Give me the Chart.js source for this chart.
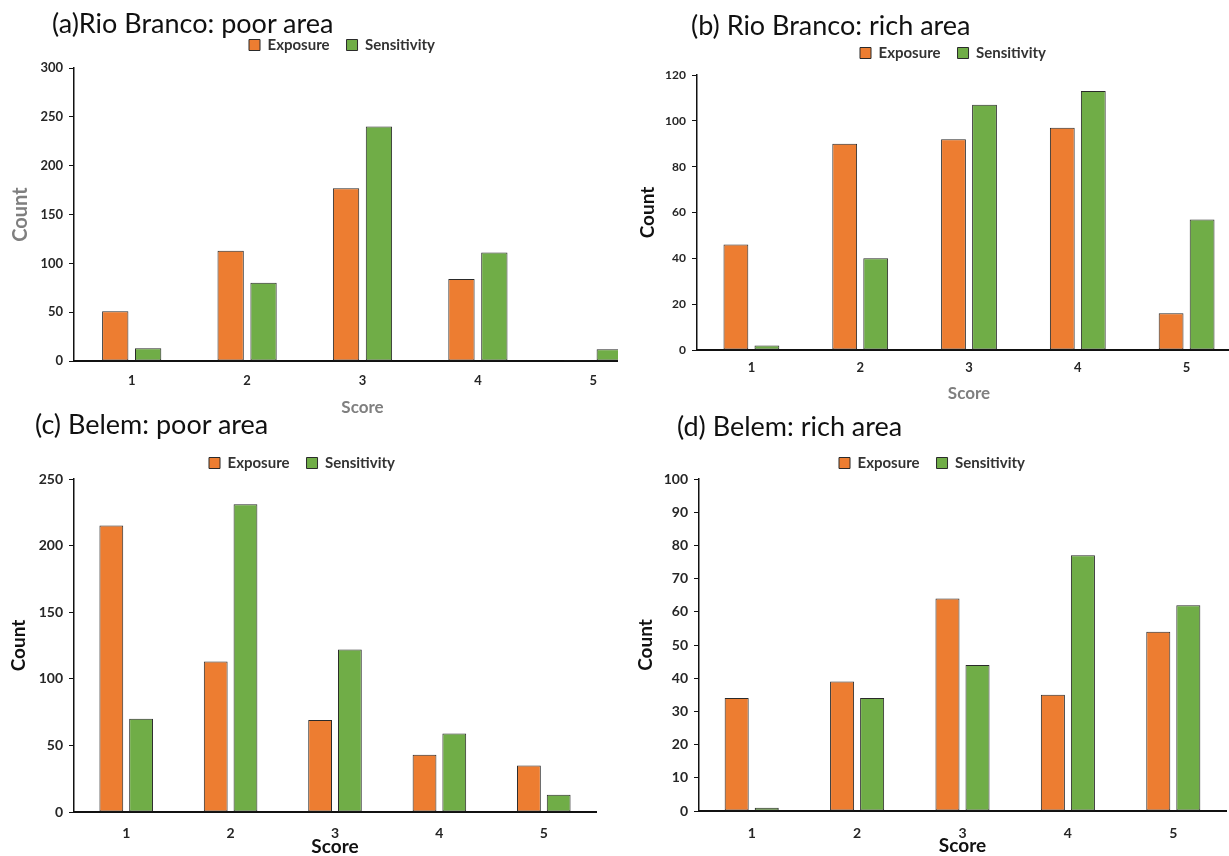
<!DOCTYPE html>
<html>
<head>
<meta charset="utf-8">
<script src="https://cdn.jsdelivr.net/npm/chart.js@4.4.1/dist/chart.umd.min.js"></script>
<style>
  body { margin: 0; background: #fff; width: 1229px; height: 856px; overflow: hidden; position: relative; font-family: Lato, sans-serif; }
  .wrap { position: absolute; overflow: hidden; }
  .title { position: absolute; font-size: 27px; line-height: 30px; color: #111; white-space: nowrap; }
  canvas { display: block; }
</style>
</head>
<body>
<script>
const scores = ['1', '2', '3', '4', '5'];

// (a) Rio Branco, poor area
const rbPoorExposure = [51, 113, 177, 84, 1];
const rbPoorSensitivity = [13, 80, 240, 111, 12];
// (b) Rio Branco, rich area
const rbRichExposure = [46, 90, 92, 97, 16];
const rbRichSensitivity = [2, 40, 107, 113, 57];
// (c) Belem, poor area
const bePoorExposure = [215, 113, 69, 43, 35];
const bePoorSensitivity = [70, 231, 122, 59, 13];
// (d) Belem, rich area
const beRichExposure = [34, 39, 64, 35, 54];
const beRichSensitivity = [1, 34, 44, 77, 62];

const ORANGE = '#ED7D31';
const GREEN = '#70AD47';
const EDGE = '#2a2a2a';
const FONT = 'Lato, sans-serif';
const GREY = '#7f7f7f';
const DARK = '#262626';

// moves the legend to a fixed spot without taking room from the plot
function legendAt(cx, cy, pad, fs) {
  return {
    id: 'legendAt',
    beforeInit(chart) {
      const lg = chart.legend;
      const fit = lg.fit;
      lg.fit = function () { fit.call(this); this.height = 0; };
    },
    afterLayout(chart) {
      const lg = chart.legend;
      const dx = cx - (lg.left + lg.right) / 2;
      lg.left += dx;
      lg.right += dx;
      lg.top = cy - pad - fs / 2;
      lg.bottom = lg.top + pad * 2 + fs;
    }
  };
}

function drawPanel(p) {
  const wrap = document.createElement('div');
  wrap.className = 'wrap';
  wrap.style.left = p.x + 'px';
  wrap.style.top = p.y + 'px';
  wrap.style.width = p.clipW + 'px';
  wrap.style.height = p.h + 'px';
  const cv = document.createElement('canvas');
  cv.width = p.w;
  cv.height = p.h;
  wrap.appendChild(cv);
  document.body.appendChild(wrap);

  const t = document.createElement('div');
  t.className = 'title';
  t.textContent = p.title;
  t.style.left = p.tx + 'px';
  t.style.top = (p.ty - 15) + 'px';
  document.body.appendChild(t);

  const legendPad = 17, legendFont = 15;

  new Chart(cv, {
    type: 'bar',
    data: {
      labels: scores,
      datasets: [
        { label: 'Exposure', data: p.exposure, backgroundColor: ORANGE, borderColor: EDGE, borderWidth: 1,
          borderSkipped: false, barPercentage: 0.8, categoryPercentage: 0.57 },
        { label: 'Sensitivity', data: p.sensitivity, backgroundColor: GREEN, borderColor: EDGE, borderWidth: 1,
          borderSkipped: false, barPercentage: 0.8, categoryPercentage: 0.57 }
      ]
    },
    options: {
      responsive: false,
      animation: false,
      layout: { padding: { left: 0, top: p.area.top, right: p.w - p.area.right, bottom: 0 } },
      plugins: {
        legend: {
          labels: { boxWidth: 11, boxHeight: 11, padding: legendPad, color: '#333',
            font: { family: FONT, size: legendFont, weight: 'bold' } }
        },
        tooltip: { enabled: false }
      },
      scales: {
        x: {
          grid: { display: true, drawOnChartArea: false, drawTicks: false },
          border: { color: '#111', width: 2 },
          ticks: { padding: p.xPad, color: DARK, font: { family: FONT, size: p.xFont, weight: 'bold' } },
          title: { display: true, text: 'Score', color: p.xTitleColor, padding: 0,
            font: { family: FONT, size: p.xTitleFont, weight: 'bold' } },
          afterFit: s => { s.height = p.h - p.area.bottom; }
        },
        y: {
          min: 0,
          max: p.max,
          ticks: { stepSize: p.step, padding: 6, color: DARK, font: { family: FONT, size: p.yFont, weight: 'bold' } },
          grid: { drawOnChartArea: false, drawTicks: true, tickLength: 5, color: '#111' },
          border: { color: '#111', width: 1.5 },
          title: { display: true, text: 'Count', color: p.yTitleColor, padding: { top: p.yTitlePad, bottom: 0 },
            font: { family: FONT, size: p.yTitleFont, weight: 'bold' } },
          afterFit: s => { s.width = p.area.left; }
        }
      }
    },
    plugins: [legendAt(p.legend[0], p.legend[1], legendPad, legendFont)]
  });
}

drawPanel({
  title: '(a)Rio Branco: poor area', tx: 52, ty: 23,
  exposure: rbPoorExposure, sensitivity: rbPoorSensitivity, max: 300, step: 50,
  x: 0, y: 0, w: 660, h: 418, clipW: 618,
  area: { left: 74, top: 68, right: 651, bottom: 361 }, legend: [342, 45],
  xPad: 12, xFont: 13, yFont: 13, xTitleFont: 17, yTitleFont: 20, yTitlePad: 9,
  xTitleColor: GREY, yTitleColor: GREY
});

drawPanel({
  title: '(b) Rio Branco: rich area', tx: 691, ty: 25,
  exposure: rbRichExposure, sensitivity: rbRichSensitivity, max: 120, step: 20,
  x: 615, y: 0, w: 626, h: 404, clipW: 614,
  area: { left: 82, top: 75, right: 626, bottom: 350 }, legend: [338, 53],
  xPad: 10, xFont: 13, yFont: 12, xTitleFont: 17, yTitleFont: 19, yTitlePad: 21,
  xTitleColor: GREY, yTitleColor: '#111'
});

drawPanel({
  title: '(c) Belem: poor area', tx: 35, ty: 424,
  exposure: bePoorExposure, sensitivity: bePoorSensitivity, max: 250, step: 50,
  x: 0, y: 410, w: 610, h: 448, clipW: 610,
  area: { left: 74, top: 69, right: 596, bottom: 402 }, legend: [302, 53],
  xPad: 13, xFont: 14, yFont: 14, xTitleFont: 19, yTitleFont: 19, yTitlePad: 7,
  xTitleColor: '#111', yTitleColor: '#111'
});

drawPanel({
  title: '(d) Belem: rich area', tx: 677, ty: 426,
  exposure: beRichExposure, sensitivity: beRichSensitivity, max: 100, step: 10,
  x: 615, y: 410, w: 614, h: 447, clipW: 614,
  area: { left: 84, top: 69, right: 611, bottom: 401 }, legend: [317, 53],
  xPad: 14, xFont: 14, yFont: 14, xTitleFont: 19, yTitleFont: 19, yTitlePad: 19,
  xTitleColor: '#111', yTitleColor: '#111'
});
</script>
</body>
</html>
